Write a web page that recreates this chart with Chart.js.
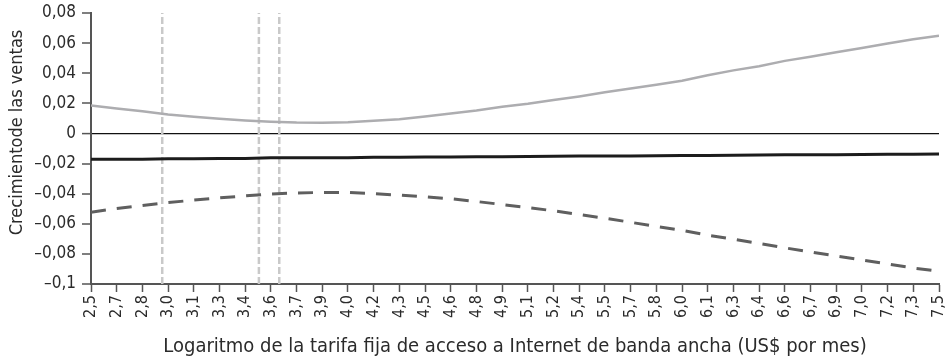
<!DOCTYPE html>
<html>
<head>
<meta charset="utf-8">
<script src="https://cdn.jsdelivr.net/npm/chart.js@4"></script>
<style>
  html, body { margin: 0; padding: 0; background: #fff; }
  #wrap { width: 952px; height: 363px; }
</style>
</head>
<body>
<div id="wrap"><canvas id="c" width="952" height="363"></canvas></div>
<script>
const X_MIN = 2.5;
const X_MAX = 7.5;
const X_LABELS = ["2,5","2,7","2,8","3,0","3,1","3,3","3,4","3,6","3,7","3,9","4,0","4,2","4,3","4,5","4,6","4,8","4,9",
  "5,1","5,2","5,4","5,5","5,7","5,8","6,0","6,1","6,3","6,4","6,6","6,7","6,9","7,0","7,2","7,3","7,5"];
const Y_MIN = -0.1;
const Y_MAX = 0.08;
const Y_STEP = 0.02;

// upper bound (light gray)
const upperValues = [0.0186, 0.0166, 0.0148, 0.0126, 0.0111, 0.0097, 0.0086, 0.0078, 0.0072, 0.0071, 0.0074, 0.0084,
  0.0095, 0.0113, 0.0133, 0.0153, 0.0177, 0.0197, 0.0222, 0.0246, 0.0273, 0.0299, 0.0324, 0.0350, 0.0386, 0.0419,
  0.0447, 0.0482, 0.0509, 0.0539, 0.0567, 0.0598, 0.0625, 0.0649];
// point estimate (black)
const middleValues = [-0.0172, -0.0172, -0.0171, -0.0168, -0.0168, -0.0167, -0.0167, -0.0162, -0.0162, -0.0161,
  -0.0161, -0.0158, -0.0158, -0.0157, -0.0156, -0.0154, -0.0154, -0.0153, -0.0152, -0.0150, -0.0150, -0.0149,
  -0.0148, -0.0146, -0.0146, -0.0145, -0.0144, -0.0142, -0.0142, -0.0141, -0.0140, -0.0138, -0.0138, -0.0137];
// lower bound (dashed)
const lowerValues = [-0.0523, -0.0499, -0.0479, -0.0459, -0.0443, -0.0428, -0.0415, -0.0402, -0.0395, -0.0392,
  -0.0392, -0.0400, -0.0410, -0.0421, -0.0434, -0.0452, -0.0472, -0.0492, -0.0514, -0.0539, -0.0563, -0.0590,
  -0.0618, -0.0643, -0.0676, -0.0703, -0.0731, -0.0760, -0.0787, -0.0814, -0.0840, -0.0867, -0.0894, -0.0915];
// vertical reference lines
const refLines = [2.92, 3.49, 3.61];

const Y_TITLE = "Crecimientode las ventas";
const X_TITLE = "Logaritmo de la tarifa fija de acceso a Internet de banda ancha (US$ por mes)";

const FONT = "'Liberation Sans Narrow', 'DejaVu Sans Condensed', 'Liberation Sans', sans-serif";
const TEXT = "#2b2b2b";

const xAt = (i) => X_MIN + (i * (X_MAX - X_MIN)) / (X_LABELS.length - 1);
const toPoints = (values) => values.map((y, i) => ({ x: xAt(i), y }));

const fmtY = (v) => {
  const r = Math.round(v * 100) / 100;
  if (r === 0) return "0";
  const s = Math.abs(r).toFixed(2).replace(/0$/, "").replace(".", ",");
  return (r < 0 ? "\u2013" : "") + s;
};

const datasets = [
  { data: toPoints(upperValues), borderColor: "#adadb0", borderWidth: 2.5, order: 2 },
  { data: toPoints(middleValues), borderColor: "#1c1c1c", borderWidth: 3, order: 1 },
  { data: toPoints(lowerValues), borderColor: "#5f5f5f", borderWidth: 3, borderDash: [15, 11], order: 3 }
];
refLines.forEach((x) => {
  datasets.push({
    data: [{ x, y: Y_MIN }, { x, y: Y_MAX }],
    borderColor: "#c9c9c9",
    borderWidth: 2.5,
    borderDash: [7, 3],
    order: 10
  });
});

// y title sits a little above the axis middle in the original
const yTitlePlugin = {
  id: "yTitle",
  afterDraw(chart) {
    const { ctx, chartArea } = chart;
    ctx.save();
    ctx.translate(17, (chartArea.top + chartArea.bottom) / 2 - 16);
    ctx.rotate(-Math.PI / 2);
    ctx.font = `18px ${FONT}`;
    ctx.fillStyle = TEXT;
    ctx.textAlign = "center";
    ctx.textBaseline = "middle";
    ctx.fillText(Y_TITLE, 0, 0);
    ctx.restore();
  }
};

new Chart(document.getElementById("c"), {
  type: "line",
  data: { datasets },
  plugins: [yTitlePlugin],
  options: {
    responsive: false,
    animation: false,
    devicePixelRatio: 1,
    layout: { padding: { top: 13, right: 13, left: 0, bottom: 0 } },
    elements: { point: { radius: 0 }, line: { tension: 0, fill: false } },
    plugins: { legend: { display: false }, tooltip: { enabled: false } },
    scales: {
      x: {
        type: "linear",
        min: X_MIN,
        max: X_MAX,
        afterBuildTicks: (axis) => {
          axis.ticks = X_LABELS.map((_, i) => ({ value: xAt(i) }));
        },
        afterFit: (axis) => {
          axis.height = 79;
          axis.paddingLeft = 0;
          axis.paddingRight = 0;
        },
        ticks: {
          autoSkip: false,
          minRotation: 90,
          maxRotation: 90,
          padding: 3,
          color: TEXT,
          font: { family: FONT, size: 16 },
          callback: (v, i) => X_LABELS[i]
        },
        grid: { drawOnChartArea: false, tickLength: 8, tickColor: "#555", tickWidth: 1.5 },
        border: { display: true, color: "#555", width: 2 },
        title: {
          display: true,
          text: X_TITLE,
          color: TEXT,
          font: { family: FONT, size: 20 },
          padding: { top: 4, bottom: 4 }
        }
      },
      y: {
        min: Y_MIN,
        max: Y_MAX,
        afterFit: (axis) => {
          axis.width = 91;
          axis.paddingTop = 0;
          axis.paddingBottom = 0;
        },
        ticks: {
          stepSize: Y_STEP,
          padding: 6,
          color: TEXT,
          font: { family: FONT, size: 17 },
          callback: (v) => fmtY(v)
        },
        grid: {
          drawOnChartArea: true,
          tickLength: 9,
          tickWidth: 1.5,
          tickColor: "#555",
          lineWidth: (ctx) => (ctx.tick && Math.abs(ctx.tick.value) < 1e-9 ? 1.2 : 0),
          color: (ctx) => (ctx.tick && Math.abs(ctx.tick.value) < 1e-9 ? "#111" : "rgba(0,0,0,0)")
        },
        border: { display: true, color: "#555", width: 2 },
        title: { display: false }
      }
    }
  }
});
</script>
</body>
</html>
